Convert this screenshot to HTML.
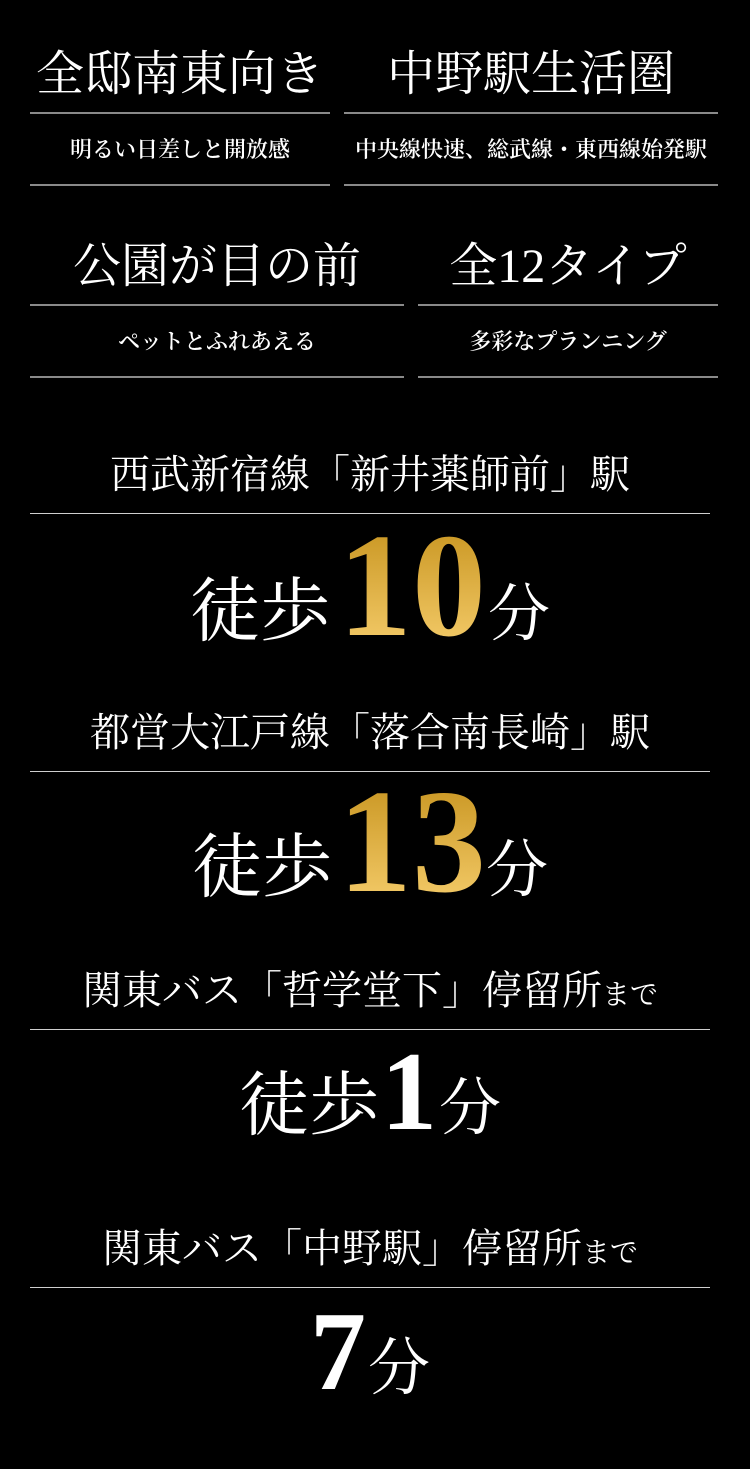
<!DOCTYPE html>
<html><head><meta charset="utf-8"><style>
html,body{margin:0;padding:0;background:#000;}
body{width:750px;height:1469px;position:relative;overflow:hidden;color:#fff;font-family:"Liberation Serif","Noto Serif CJK SC",serif;}
.a{position:absolute;text-align:center;white-space:nowrap;line-height:1;}
.ln{position:absolute;height:2px;background:#8a8a8a;}
.ln2{position:absolute;height:1px;background:#cfcfcf;}
.h{font-size:48px;}
.s{font-size:22px;font-weight:600;}
.t{font-size:40px;}
.big{display:flex;justify-content:center;align-items:baseline;position:absolute;left:0;width:740px;line-height:1;}
.gold{font-size:148px;font-weight:bold;background:linear-gradient(#c4901a,#f8d070);-webkit-background-clip:text;background-clip:text;color:transparent;}
.kj{font-size:70px;}
.fn{font-size:62px;}
.w{font-size:112px;font-weight:bold;}
</style></head><body>
<div class="a h" style="left:30px;width:300px;top:51px;">全邸南東向き</div>
<div class="ln" style="left:30px;width:300px;top:112px;"></div>
<div class="a s" style="left:30px;width:300px;top:139px;">明るい日差しと開放感</div>
<div class="ln" style="left:30px;width:300px;top:184px;"></div>

<div class="a h" style="left:344px;width:374px;top:51px;">中野駅生活圏</div>
<div class="ln" style="left:344px;width:374px;top:112px;"></div>
<div class="a s" style="left:344px;width:374px;top:139px;">中央線快速、総武線・東西線始発駅</div>
<div class="ln" style="left:344px;width:374px;top:184px;"></div>

<div class="a h" style="left:30px;width:374px;top:243px;">公園が目の前</div>
<div class="ln" style="left:30px;width:374px;top:304px;"></div>
<div class="a s" style="left:30px;width:374px;top:331px;">ペットとふれあえる</div>
<div class="ln" style="left:30px;width:374px;top:376px;"></div>

<div class="a h" style="left:418px;width:300px;top:243px;">全12タイプ</div>
<div class="ln" style="left:418px;width:300px;top:304px;"></div>
<div class="a s" style="left:418px;width:300px;top:331px;">多彩なプランニング</div>
<div class="ln" style="left:418px;width:300px;top:376px;"></div>

<div class="a t" style="left:0;width:740px;top:455px;">西武新宿線「新井薬師前」駅</div>
<div class="ln2" style="left:30px;width:680px;top:513px;"></div>
<div class="big" style="top:512px;"><span class="kj">徒歩</span><span class="gold" style="margin:0 2px 0 8px;">10</span><span class="fn">分</span></div>

<div class="a t" style="left:0;width:740px;top:713px;">都営大江戸線「落合南長崎」駅</div>
<div class="ln2" style="left:30px;width:680px;top:771px;"></div>
<div class="big" style="top:768px;"><span class="kj">徒歩</span><span class="gold" style="margin:0 0 0 6px;">13</span><span class="fn">分</span></div>

<div class="a t" style="left:0;width:740px;top:971px;">関東バス「哲学堂下」停留所<span style="font-size:28px">まで</span></div>
<div class="ln2" style="left:30px;width:680px;top:1029px;"></div>
<div class="big" style="top:1036px;"><span class="kj">徒歩</span><span class="w" style="margin:0 2px;">1</span><span class="fn">分</span></div>

<div class="a t" style="left:0;width:740px;top:1229px;">関東バス「中野駅」停留所<span style="font-size:28px">まで</span></div>
<div class="ln2" style="left:30px;width:680px;top:1287px;"></div>
<div class="big" style="top:1296px;"><span class="w" style="margin-right:2px;">7</span><span class="fn">分</span></div>
</body></html>
